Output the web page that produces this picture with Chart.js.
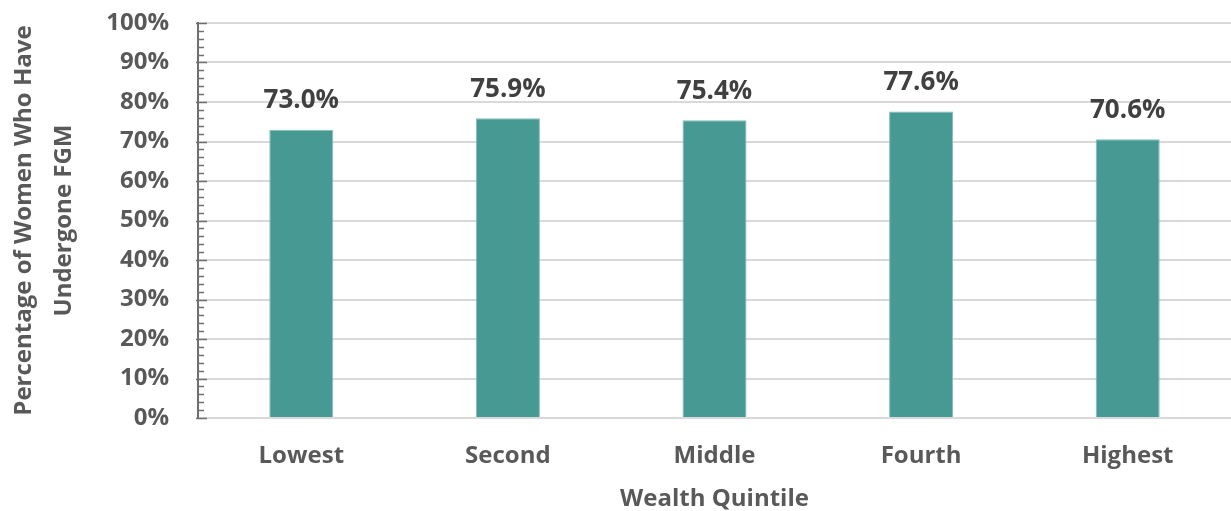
<!DOCTYPE html>
<html>
<head>
<meta charset="utf-8">
<script src="https://cdn.jsdelivr.net/npm/chart.js@4/dist/chart.umd.min.js"></script>
<style>
  html, body { margin: 0; padding: 0; background: #fff; }
  #wrap { width: 1231px; height: 511px; position: relative; }
</style>
</head>
<body>
<div id="wrap"><canvas id="fgmChart"></canvas></div>
<script>
const quintiles = ['Lowest', 'Second', 'Middle', 'Fourth', 'Highest'];
const fgmPct = [73.0, 75.9, 75.4, 77.6, 70.6];
const yTicks = [0, 10, 20, 30, 40, 50, 60, 70, 80, 90, 100];

const FONT = '"Open Sans", sans-serif';
const TEXT = '#595959';

// value labels above each bar
const barLabels = {
  id: 'barLabels',
  afterDatasetsDraw(chart) {
    const ctx = chart.ctx;
    const meta = chart.getDatasetMeta(0);
    ctx.save();
    ctx.font = 'bold 26px ' + FONT;
    ctx.fillStyle = '#404040';
    ctx.textAlign = 'center';
    ctx.textBaseline = 'middle';
    meta.data.forEach((bar, i) => {
      ctx.fillText(fgmPct[i].toFixed(1) + '%', bar.x, bar.y - 29);
    });
    ctx.restore();
  }
};

// major/minor tick marks on the inside of the value axis
const axisTicks = {
  id: 'axisTicks',
  afterDraw(chart) {
    const y = chart.scales.y;
    const x0 = chart.chartArea.left;
    const ctx = chart.ctx;
    ctx.save();
    ctx.strokeStyle = '#6f6f6f';
    ctx.lineWidth = 1.5;
    for (let v = 0; v <= 100; v += 2) {
      const py = Math.round(y.getPixelForValue(v)) + 0.5;
      const major = v % 10 === 0;
      ctx.beginPath();
      ctx.moveTo(x0 - (major ? 2 : 0), py);
      ctx.lineTo(x0 + (major ? 9 : 6), py);
      ctx.stroke();
    }
    ctx.restore();
  }
};

new Chart(document.getElementById('fgmChart'), {
  type: 'bar',
  data: {
    labels: quintiles,
    datasets: [{
      data: fgmPct,
      backgroundColor: '#479a93',
      borderColor: '#7fbdb7',
      borderWidth: { left: 1, right: 1, top: 1, bottom: 0 },
      categoryPercentage: 1,
      barPercentage: 0.31,
    }],
  },
  options: {
    responsive: true, maintainAspectRatio: false, animation: false,
    layout: { padding: { top: 23, right: 0, left: 0, bottom: 0 } },
    plugins: { legend: { display: false }, tooltip: { enabled: false } },
    scales: {
      x: {
        grid: { display: false },
        border: { display: false },
        ticks: { color: TEXT, font: { family: FONT, size: 24, weight: 'bold' }, padding: 16 },
        title: {
          display: true, text: 'Wealth Quintile', color: TEXT,
          font: { family: FONT, size: 24, weight: 'bold', lineHeight: 1.0 }, padding: { top: 6, bottom: 0 },
        },
        afterFit(scale) { scale.height = 93; },
      },
      y: {
        min: 0, max: 100,
        afterBuildTicks(scale) { scale.ticks = yTicks.map(v => ({ value: v })); },
        grid: { color: '#d9d9d9', lineWidth: 2, drawTicks: false },
        border: { display: true, color: '#6f6f6f', width: 2 },
        ticks: {
          color: TEXT, font: { family: FONT, size: 24, weight: 'bold' }, padding: 29,
          callback: v => v + '%',
        },
        title: {
          display: true, text: ['Percentage of Women Who Have', 'Undergone FGM'], color: TEXT,
          font: { family: FONT, size: 24, weight: 'bold', lineHeight: 1.667 }, padding: { top: 4, bottom: 0 },
        },
        afterFit(scale) {
          scale.width = 198;
          scale.paddingTop = 0;
          scale.paddingBottom = 0;
        },
      },
    },
  },
  plugins: [barLabels, axisTicks],
});
</script>
</body>
</html>
